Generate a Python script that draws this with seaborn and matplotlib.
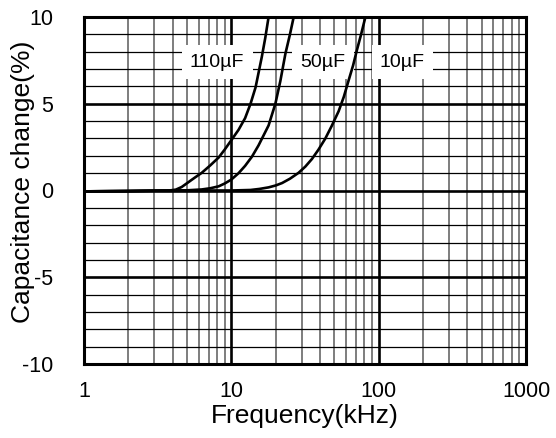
import matplotlib
matplotlib.use("Agg")
import matplotlib.pyplot as plt
import matplotlib.ticker as mticker
import seaborn as sns
import pandas as pd

# ---- data ----
freq_110 = [1, 2, 3, 3.8, 4.2, 4.6, 5.0, 5.6, 6.3, 7.2, 8.2, 9.0, 10.0, 11.2, 12.4, 13.5, 14.6, 16.1, 17.0, 17.9]
cap_110 = [-0.05, -0.03, -0.01, 0.0, 0.05, 0.2, 0.42, 0.72, 1.02, 1.45, 1.9, 2.35, 2.9, 3.5, 4.17, 5.0, 5.94, 7.7, 8.8, 10.0]

freq_50 = [1, 2, 3, 5, 6.3, 7.2, 8.2, 9.0, 10.0, 11.2, 12.4, 13.8, 15.3, 17.9, 19.9, 21.5, 23.3, 25.0, 26.5]
cap_50 = [-0.05, -0.03, -0.01, 0.01, 0.06, 0.13, 0.24, 0.4, 0.63, 1.0, 1.42, 1.95, 2.6, 3.75, 5.0, 6.3, 7.9, 9.0, 10.0]

freq_10 = [1, 2, 3, 5, 10, 13.5, 15.5, 17.9, 20.0, 22.1, 25.0, 28.6, 31.8, 35.2, 39.0, 43.4, 48.0, 53.5, 58.0, 62.5, 67.0, 71.2, 76.0, 81.3]
cap_10 = [-0.05, -0.03, -0.01, 0.0, 0.0, 0.03, 0.09, 0.18, 0.29, 0.43, 0.68, 1.02, 1.38, 1.81, 2.35, 2.99, 3.72, 4.57, 5.4, 6.34, 7.2, 8.1, 9.0, 10.0]

series_labels = ["110µF", "50µF", "10µF"]
label_x = [8.0, 42.0, 145.0]
label_y = [7.4, 7.4, 7.4]

x_ticks = [1, 10, 100, 1000]
y_ticks = [-10, -5, 0, 5, 10]

df = pd.concat([
    pd.DataFrame({"f": freq_110, "c": cap_110, "s": "110µF"}),
    pd.DataFrame({"f": freq_50, "c": cap_50, "s": "50µF"}),
    pd.DataFrame({"f": freq_10, "c": cap_10, "s": "10µF"}),
])

sns.set_style("white")
plt.rcParams["font.family"] = ["Liberation Sans", "DejaVu Sans"]
plt.rcParams["axes.unicode_minus"] = False
plt.rcParams["text.color"] = "black"
plt.rcParams["axes.labelcolor"] = "black"
plt.rcParams["xtick.color"] = "black"
plt.rcParams["ytick.color"] = "black"

fig = plt.figure(figsize=(5.56, 4.38), dpi=100)
ax = fig.add_axes([84 / 556, 1 - 364 / 438, (526 - 84) / 556, (364 - 17) / 438])

sns.lineplot(data=df, x="f", y="c", units="s", estimator=None, color="black",
             linewidth=1.9, ax=ax, legend=False, zorder=5)

ax.set_xscale("log")
ax.set_xlim(1, 1000)
ax.set_ylim(-10, 10)
ax.xaxis.set_major_locator(mticker.FixedLocator(x_ticks))
ax.xaxis.set_major_formatter(mticker.FixedFormatter([str(t) for t in x_ticks]))
ax.xaxis.set_minor_locator(mticker.LogLocator(base=10, subs=range(2, 10), numticks=20))
ax.xaxis.set_minor_formatter(mticker.NullFormatter())
ax.yaxis.set_major_locator(mticker.FixedLocator(y_ticks))
ax.yaxis.set_minor_locator(mticker.MultipleLocator(1))

ax.set_axisbelow(True)
ax.xaxis.grid(True, which="minor", color="#5a5a5a", linewidth=1.1)
ax.yaxis.grid(True, which="minor", color="black", linewidth=0.9)
ax.xaxis.grid(True, which="major", color="black", linewidth=1.9)
ax.yaxis.grid(True, which="major", color="black", linewidth=1.9)

for sp in ax.spines.values():
    sp.set_visible(True)
    sp.set_color("black")
    sp.set_linewidth(2.2)

ax.tick_params(axis="both", which="both", length=0, labelcolor="black")
ax.tick_params(axis="x", which="major", labelsize=15.5, pad=12)
ax.tick_params(axis="y", which="major", labelsize=15.5, pad=22)

ax.set_xlabel("Frequency(kHz)", fontsize=19, labelpad=2, color="black")
ax.set_ylabel("Capacitance change(%)", fontsize=19, color="black")
ax.yaxis.set_label_coords(-0.11, 0.525)

for lab, lx, ly in zip(series_labels, label_x, label_y):
    ax.text(lx, ly, lab, fontsize=14, ha="center", va="center", zorder=4,
            color="black",
            bbox=dict(facecolor="white", edgecolor="none", pad=6))

fig.savefig("out.png", dpi=100)
